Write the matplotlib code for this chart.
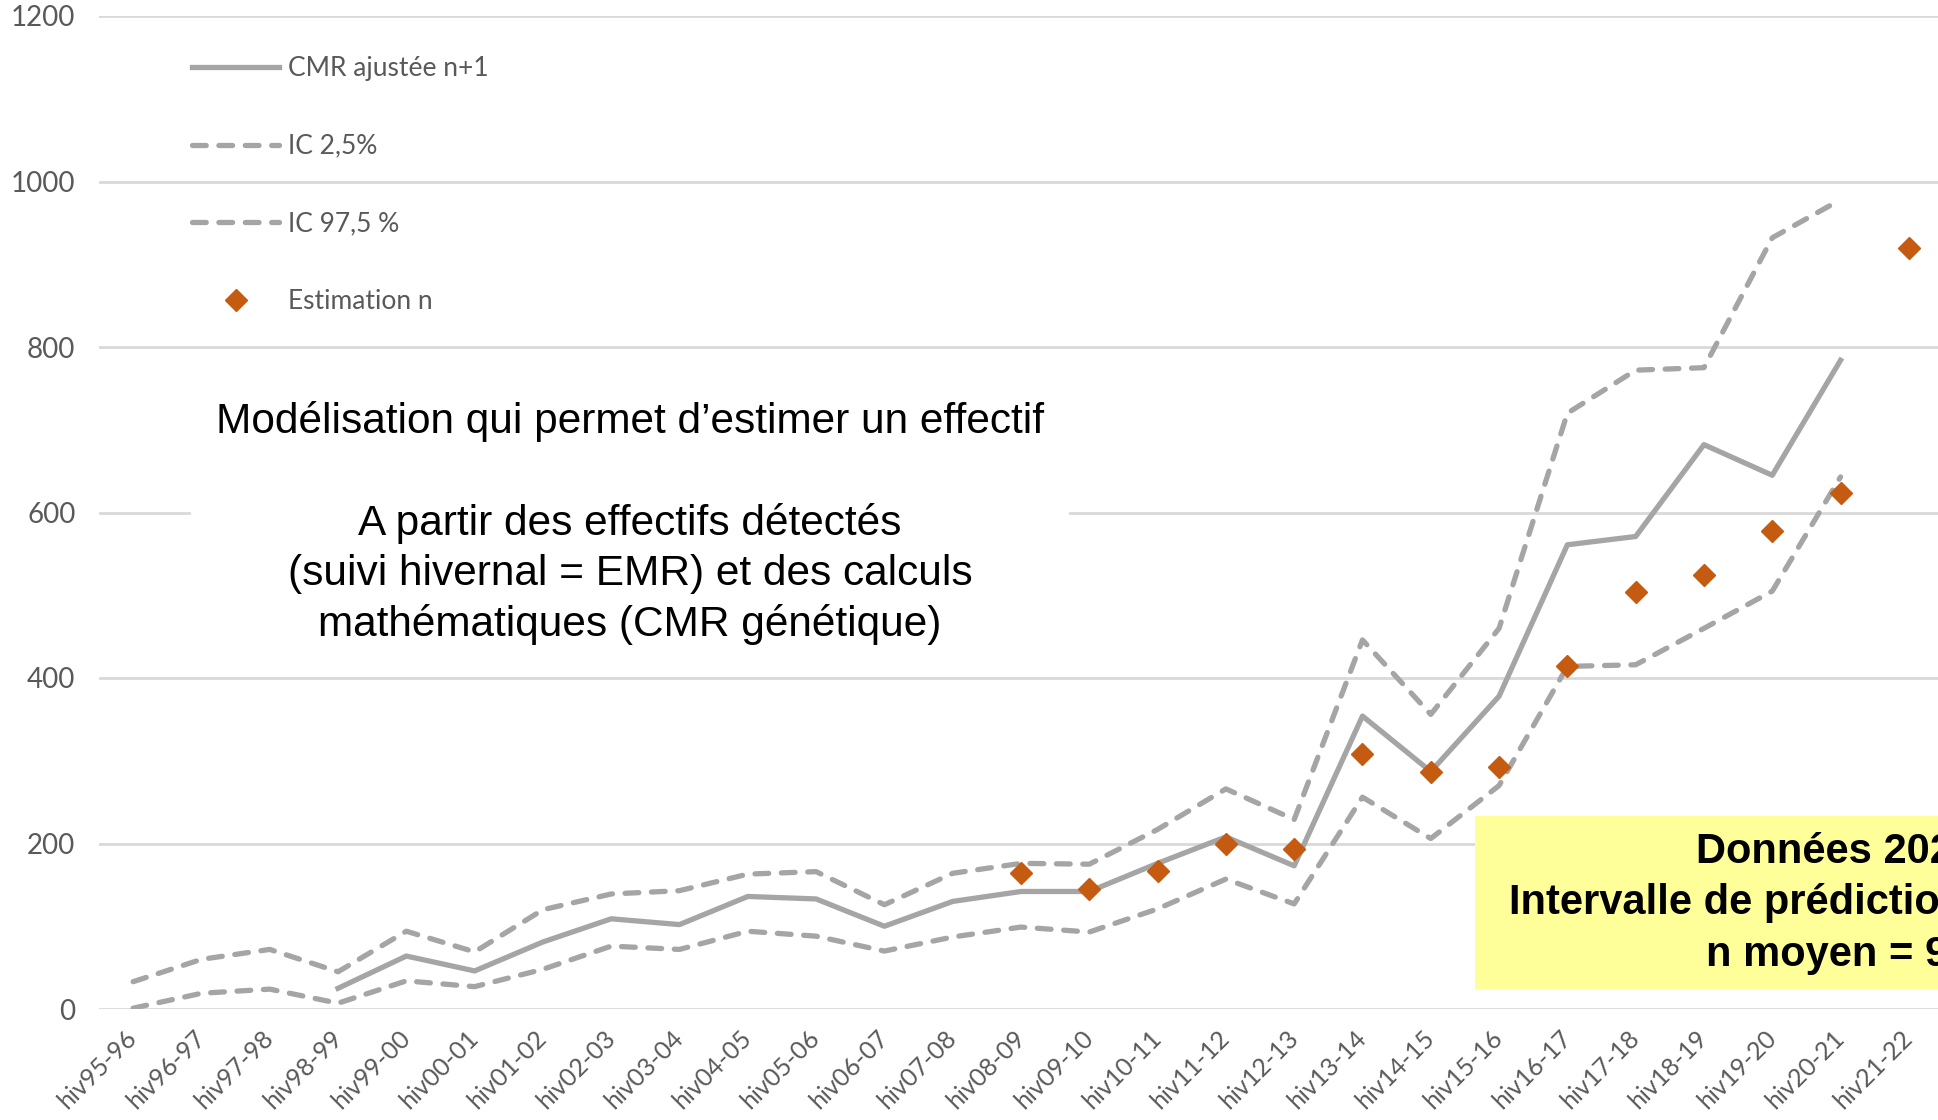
import numpy as np
import matplotlib.pyplot as plt
from matplotlib.patches import Rectangle

seasons = ["hiv95-96", "hiv96-97", "hiv97-98", "hiv98-99", "hiv99-00", "hiv00-01",
           "hiv01-02", "hiv02-03", "hiv03-04", "hiv04-05", "hiv05-06", "hiv06-07",
           "hiv07-08", "hiv08-09", "hiv09-10", "hiv10-11", "hiv11-12", "hiv12-13",
           "hiv13-14", "hiv14-15", "hiv15-16", "hiv16-17", "hiv17-18", "hiv18-19",
           "hiv19-20", "hiv20-21", "hiv21-22"]

nan = np.nan
# CMR ajustee n+1 (starts hiv98-99)
cmr = [nan, nan, nan, 25, 64, 46, 81, 109, 102, 136, 133, 100, 130, 142, 142,
       176, 208, 173, 354, 287, 378, 561, 571, 682, 645, 784, nan]
ic_low = [1, 19, 24, 7, 34, 27, 48, 76, 72, 94, 88, 70, 87, 99, 93,
          121, 157, 127, 256, 206, 270, 414, 416, 460, 505, 643, nan]
ic_high = [33, 60, 72, 45, 94, 69, 120, 139, 143, 163, 166, 126, 164, 176, 175,
           217, 266, 229, 446, 356, 460, 720, 772, 775, 932, 978, nan]
estim = [nan] * 13 + [164, 145, 167, 199, 193, 308, 286, 293, 415, 504, 525, 578, 623, 920]

GREY = "#A5A5A5"
ORANGE = "#C55A11"
TXT = "#595959"

fig = plt.figure(figsize=(19.38, 11.2), dpi=100)
ax = fig.add_axes([99 / 1938, 1 - 1009 / 1120, (1943 - 99) / 1938, (1009 - 16) / 1120])
x = np.arange(len(seasons))

ax.plot(x, cmr, color=GREY, lw=3.8, label="CMR ajustée n+1", zorder=3)
ax.plot(x, ic_low, color=GREY, lw=3.8, dashes=(2.6, 2.4), dash_capstyle="round",
        label="IC 2,5%", zorder=3)
ax.plot(x, ic_high, color=GREY, lw=3.8, dashes=(2.6, 2.4), dash_capstyle="round",
        label="IC 97,5 %", zorder=3)
ax.plot(x, estim, ls="none", marker="D", ms=11, color=ORANGE, label="Estimation n", zorder=4)

ax.set_xlim(-0.5, len(seasons) - 0.5)
ax.set_ylim(0, 1200)
ax.set_yticks(range(0, 1201, 200))
ax.set_xticks(x)
ax.set_xticklabels(seasons, rotation=45, ha="right", va="center", rotation_mode="anchor",
                   fontsize=18, color=TXT, family="Lato")
ax.tick_params(axis="x", length=0, pad=18)
ax.tick_params(axis="y", length=0, pad=17, labelsize=20, labelcolor=TXT)
for lab in ax.get_yticklabels():
    lab.set_family("Lato")
ax.grid(axis="y", color="#D9D9D9", lw=2)
ax.set_axisbelow(True)
for s in ax.spines.values():
    s.set_visible(False)

leg = ax.legend(loc="upper left", bbox_to_anchor=(192 / 1938, 0.950),
                bbox_transform=fig.transFigure, frameon=False, borderpad=0,
                borderaxespad=0, labelspacing=2.0, handlelength=3.3,
                handletextpad=0.33, prop={"family": "Lato", "size": 19})
for t in leg.get_texts():
    t.set_color(TXT)

fig.text(630 / 1938, 1 - 523 / 1120,
         "Modélisation qui permet d\u2019estimer un effectif\n\n"
         "A partir des effectifs détectés\n(suivi hivernal = EMR) et des calculs\n"
         "mathématiques (CMR génétique)",
         ha="center", va="center", multialignment="center", linespacing=1.33,
         fontsize=30.5, family="Liberation Sans", color="black",
         bbox=dict(boxstyle="square,pad=0.6", fc="white", ec="none"), zorder=5)

fig.patches.append(Rectangle((1475 / 1938, 1 - 989 / 1120), 0.4, 173 / 1120,
                             transform=fig.transFigure, fc="#FFFF99", ec="none", zorder=5))
box_lines = [("Données 2021-2022", 1696, 852),
             ("Intervalle de prédiction", 1509, 903),
             ("n moyen = 920", 1706, 955)]
for txt, px, py in box_lines:
    fig.text(px / 1938, 1 - py / 1120, txt, ha="left", va="center", fontsize=30,
             fontweight="bold", family="Liberation Sans", color="black", zorder=6)

fig.savefig("out.png", dpi=100)
